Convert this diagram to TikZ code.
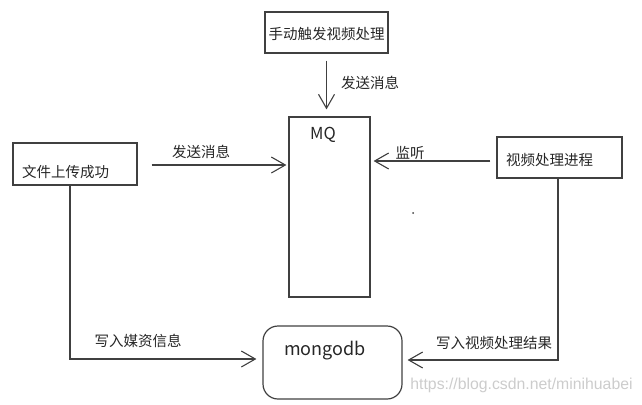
\documentclass[tikz,border=0pt]{standalone}
\usepackage{fontspec}
\setmainfont{Noto Sans CJK SC}
\newfontfamily\wmfont{Liberation Sans}
\usetikzlibrary{arrows.meta,calc}
\definecolor{linec}{HTML}{404040}
\tikzset{
  box/.style={draw=linec, line width=1.2pt, inner sep=0pt},
  txt/.style={inner sep=0pt, font=\fontsize{14.5}{17}\selectfont, text=black!85},
  arr/.style={draw=linec, line width=1.2pt, -{Straight Barb[length=14pt,width=16pt,line width=1.1pt]}},
  conn/.style={draw=linec, line width=1.2pt},
}
\begin{document}
\begin{tikzpicture}[x=1pt,y=-1pt]
\useasboundingbox (0,0) rectangle (642,404);
% boxes
\node[box, minimum width=123pt, minimum height=41pt] (top) at (326.5,32.5) {};
\node[txt] (toptxt) at (326.5,34) {手动触发视频处理};
\node[box, minimum width=81pt, minimum height=180pt] (mq) at (329.5,207) {};
\node[txt, font=\fontsize{16.5}{18}\selectfont] (mqtxt) at (323,135) {MQ};
\node[box, minimum width=124pt, minimum height=42pt] (left) at (75,164) {};
\node[txt, anchor=west] (lefttxt) at (22,172) {文件上传成功};
\node[box, minimum width=125pt, minimum height=41pt] (right) at (559.5,157.5) {};
\node[txt, anchor=west] (righttxt) at (506,160) {视频处理进程};
\node[box, rounded corners=15pt, minimum width=139pt, minimum height=73pt] (mongo) at (332.5,362.5) {};
\node[txt, font=\fontsize{18}{20}\selectfont] (mongotxt) at (325,351) {mongodb};
% connectors
\draw[arr, shorten <=7pt, shorten >=7pt] (top.south) -- (top.south |- mq.north);
\draw[arr, shorten <=14pt, shorten >=2pt] ([yshift=-1pt]left.east) -- ([yshift=-1pt]left.east -| mq.west);
\draw[arr, shorten <=6pt, shorten >=3pt] ([yshift=-3.5pt]right.west) -- ([yshift=-3.5pt]right.west -| mq.east);
\draw[arr] ([xshift=-5pt]left.south) |- ([xshift=-6pt,yshift=3.5pt]mongo.west);
\draw[arr] ([xshift=-1.5pt]right.south) |- ([xshift=5pt,yshift=2.5pt]mongo.east);
% labels
\node[txt] (l1) at (370,83) {发送消息};
\node[txt] (l2) at (201,152) {发送消息};
\node[txt] (l3) at (410,153) {监听};
\node[txt] (l4) at (138,341) {写入媒资信息};
\node[txt] (l5) at (494,343) {写入视频处理结果};
% stray dot
\fill[linec] (413,213) circle (1pt);
% watermark
\node[inner sep=0pt, font=\wmfont\fontsize{15.8}{18}\selectfont, text=black!20] (wm) at (521.5,385) {https://blog.csdn.net/minihuabei};
\end{tikzpicture}
\end{document}
